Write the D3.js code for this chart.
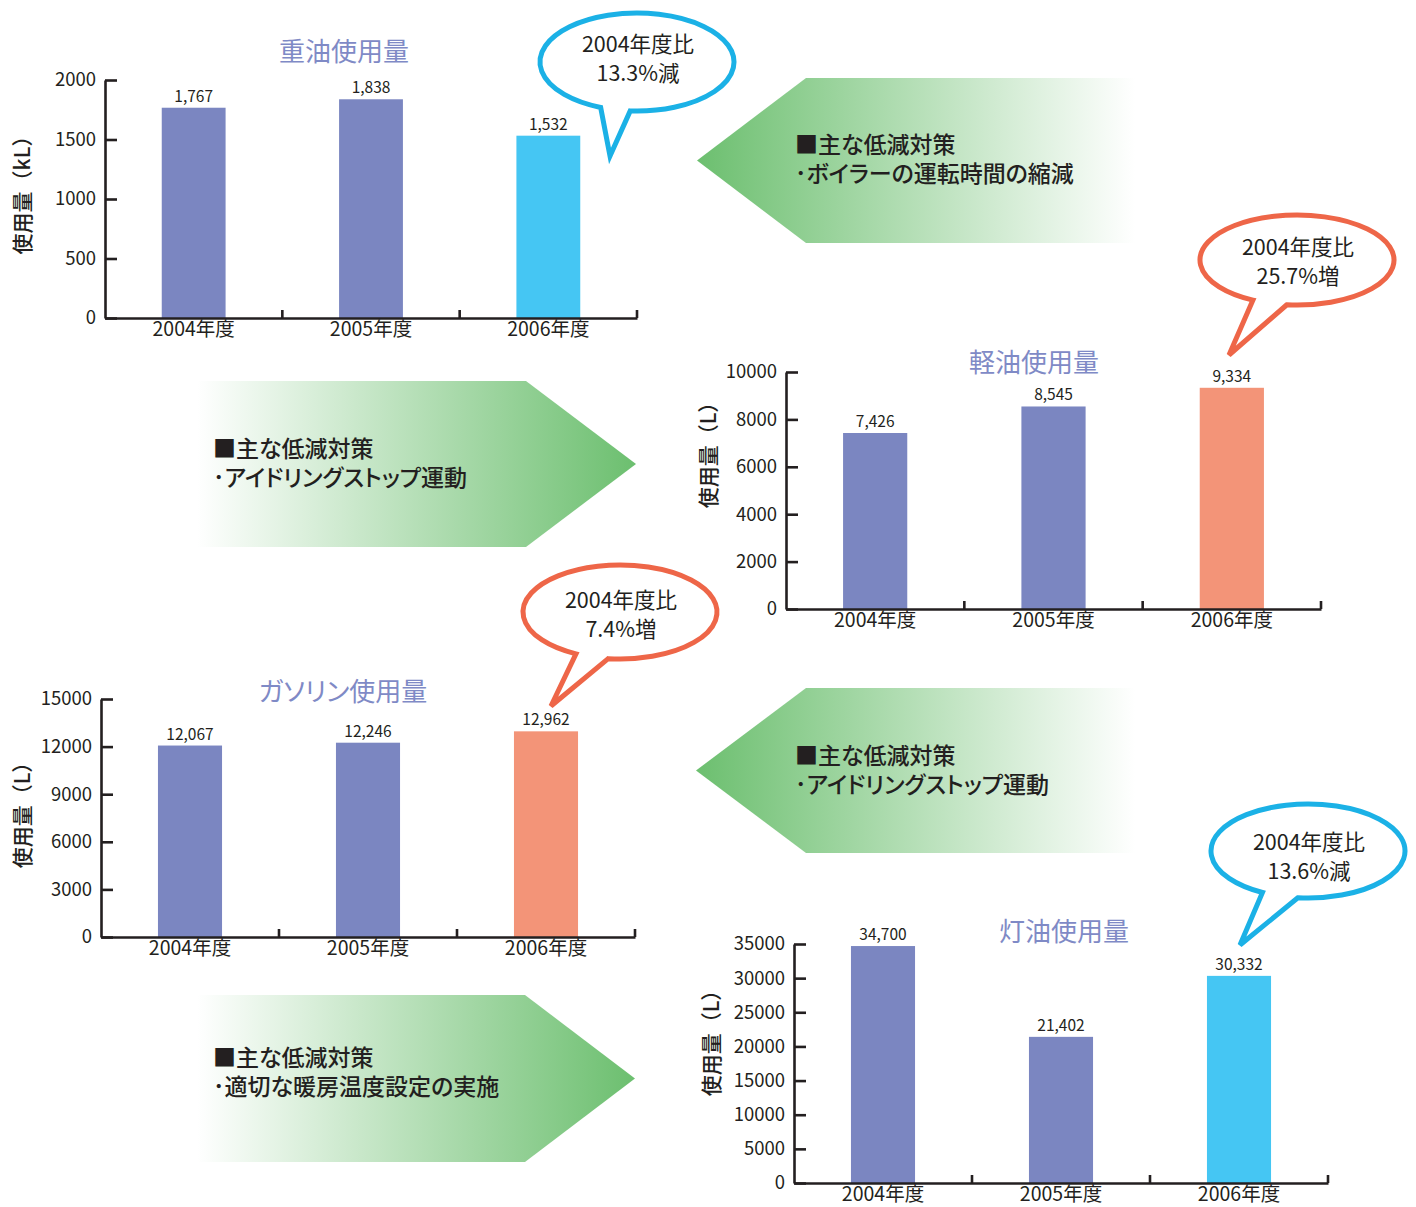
<!DOCTYPE html>
<html lang="ja">
<head>
<meta charset="utf-8">
<title>燃料使用量の推移</title>
<script src="https://cdn.jsdelivr.net/npm/d3@7"></script>
<style>
  html, body { margin: 0; padding: 0; background: #ffffff; }
  svg { display: block; }
  text { font-family: "Noto Sans CJK JP", "Noto Sans", sans-serif; fill: #231f20; }
  .kana { font-feature-settings: "palt"; }
</style>
</head>
<body>
<script>
// ---- data ----
const years = ["2004年度", "2005年度", "2006年度"];

const heavyOilUse = [1767, 1838, 1532];      // kL
const lightOilUse = [7426, 8545, 9334];      // L
const gasolineUse = [12067, 12246, 12962];   // L
const keroseneUse = [34700, 21402, 30332];   // L

const heavyOilTicks = [0, 500, 1000, 1500, 2000];
const lightOilTicks = [0, 2000, 4000, 6000, 8000, 10000];
const gasolineTicks = [0, 3000, 6000, 9000, 12000, 15000];
const keroseneTicks = [0, 5000, 10000, 15000, 20000, 25000, 30000, 35000];

const chartTitles = ["重油使用量", "軽油使用量", "ガソリン使用量", "灯油使用量"];
const unitLabels = ["使用量（kL）", "使用量（L）", "使用量（L）", "使用量（L）"];

const changeLines = [
  ["2004年度比", "13.3%減"],
  ["2004年度比", "25.7%増"],
  ["2004年度比", "7.4%増"],
  ["2004年度比", "13.6%減"]
];

const measureHeading = "■主な低減対策";
const measureItems = [
  "･ボイラーの運転時間の縮減",
  "･アイドリングストップ運動",
  "･アイドリングストップ運動",
  "･適切な暖房温度設定の実施"
];

// ---- styles ----
const C = {
  bar: "#7b86c1",
  down: "#45c6f3",
  up: "#f39478",
  title: "#7f8ac6",
  ink: "#231f20",
  blueLine: "#1bb1e6",
  redLine: "#ee6648",
  green: "#6cbf6f"
};

const svg = d3.select("body").append("svg")
  .attr("width", 1416).attr("height", 1207);
const defs = svg.append("defs");

// ---- bar chart panels ----
const panels = [
  { values: heavyOilUse, ticks: heavyOilTicks, hi: C.down,
    x0: 105, x1: 637, y0: 318, y1: 80, title: [344, 61], unit: [21, 190] },
  { values: lightOilUse, ticks: lightOilTicks, hi: C.up,
    x0: 786, x1: 1321, y0: 609, y1: 372, title: [1034, 372], unit: [707, 450] },
  { values: gasolineUse, ticks: gasolineTicks, hi: C.up,
    x0: 101, x1: 635, y0: 937, y1: 699, title: [343, 701], unit: [21, 810] },
  { values: keroseneUse, ticks: keroseneTicks, hi: C.down,
    x0: 794, x1: 1328, y0: 1183, y1: 944, title: [1064, 941], unit: [710, 1038] }
];

panels.forEach((p, i) => {
  const g = svg.append("g");
  const x = d3.scaleBand().domain(years).range([p.x0, p.x1])
    .paddingInner(0.64).paddingOuter(0.32);
  const y = d3.scaleLinear().domain([0, d3.max(p.ticks)]).range([p.y0, p.y1]);

  // bars
  g.selectAll("rect.bar").data(p.values).join("rect")
    .attr("class", "bar")
    .attr("x", (d, j) => x(years[j]))
    .attr("width", x.bandwidth())
    .attr("y", d => y(d))
    .attr("height", d => y(0) - y(d))
    .attr("fill", (d, j) => j === years.length - 1 ? p.hi : C.bar);

  // value labels
  g.selectAll("text.val").data(p.values).join("text")
    .attr("class", "val")
    .attr("x", (d, j) => x(years[j]) + x.bandwidth() / 2)
    .attr("y", d => y(d) - 6)
    .attr("text-anchor", "middle")
    .attr("font-size", 15.5)
    .text(d => d3.format(",")(d));

  // y axis with inward ticks
  const ya = g.append("g")
    .attr("transform", `translate(${p.x0},0)`)
    .call(d3.axisLeft(y).tickValues(p.ticks).tickFormat(d3.format("d"))
      .tickSizeInner(-12).tickSizeOuter(0).tickPadding(9));
  ya.select(".domain").attr("stroke", C.ink).attr("stroke-width", 2.6);
  ya.selectAll(".tick line").attr("stroke", C.ink).attr("stroke-width", 2.6);
  ya.selectAll(".tick text").attr("font-size", 18.5).attr("fill", C.ink)
    .attr("font-family", "'Noto Sans CJK JP', sans-serif");

  // x axis: category labels plus boundary marks
  const xa = g.append("g")
    .attr("transform", `translate(0,${p.y0})`)
    .call(d3.axisBottom(x).tickSize(0).tickPadding(4));
  xa.select(".domain").attr("stroke", C.ink).attr("stroke-width", 2.6);
  xa.selectAll(".tick text").attr("font-size", 19.5).attr("fill", C.ink)
    .attr("font-family", "'Noto Sans CJK JP', sans-serif");
  const step = x.step();
  g.selectAll("line.sep").data(years).join("line")
    .attr("class", "sep")
    .attr("x1", (d, j) => p.x0 + step * (j + 1))
    .attr("x2", (d, j) => p.x0 + step * (j + 1))
    .attr("y1", p.y0).attr("y2", p.y0 - 8)
    .attr("stroke", C.ink).attr("stroke-width", 2.6);

  // title
  g.append("text")
    .attr("class", "kana")
    .attr("x", p.title[0]).attr("y", p.title[1])
    .attr("text-anchor", "middle")
    .attr("font-size", 26)
    .style("fill", C.title)
    .text(chartTitles[i]);

  // unit label
  g.append("text")
    .attr("transform", `translate(${p.unit[0]},${p.unit[1]}) rotate(-90)`)
    .attr("text-anchor", "middle")
    .attr("dominant-baseline", "central")
    .attr("font-size", 21)
    .attr("font-weight", 500)
    .text(unitLabels[i]);
});

// ---- arrow banners with measures ----
const banners = [
  { dir: "left",  left: 697, right: 1135, neck: 806, top: 78,  bottom: 243, tx: 795, ty: 153 },
  { dir: "right", left: 197, right: 636,  neck: 526, top: 381, bottom: 547, tx: 213, ty: 457 },
  { dir: "left",  left: 696, right: 1135, neck: 806, top: 688, bottom: 853, tx: 795, ty: 764 },
  { dir: "right", left: 197, right: 635,  neck: 525, top: 995, bottom: 1162, tx: 213, ty: 1066 }
];

banners.forEach((b, i) => {
  const id = "fade" + i;
  const grad = defs.append("linearGradient").attr("id", id)
    .attr("gradientUnits", "userSpaceOnUse")
    .attr("x1", b.left).attr("x2", b.right).attr("y1", 0).attr("y2", 0);
  const stops = b.dir === "left"
    ? [[0, C.green], [1, "#ffffff"]]
    : [[0, "#ffffff"], [1, C.green]];
  stops.forEach(s => grad.append("stop").attr("offset", s[0]).attr("stop-color", s[1]));

  const mid = (b.top + b.bottom) / 2;
  const pts = b.dir === "left"
    ? [[b.left, mid], [b.neck, b.top], [b.right, b.top], [b.right, b.bottom], [b.neck, b.bottom]]
    : [[b.left, b.top], [b.neck, b.top], [b.right, mid], [b.neck, b.bottom], [b.left, b.bottom]];
  svg.append("path")
    .attr("d", d3.line()(pts) + "Z")
    .attr("fill", `url(#${id})`);

  const t = svg.append("text").attr("class", "kana").attr("font-size", 23).attr("font-weight", 500);
  t.append("tspan").attr("x", b.tx).attr("y", b.ty).text(measureHeading);
  t.append("tspan").attr("x", b.tx).attr("y", b.ty + 29).text(measureItems[i]);
});

// ---- speech bubbles ----
const bubbles = [
  { cx: 637,  cy: 62,  rx: 97, ry: 49, a1: 112, a2: 94, tip: [610, 156], color: C.blueLine, ty: 52 },
  { cx: 1297, cy: 260, rx: 97, ry: 45, a1: 117, a2: 96, tip: [1229, 355], color: C.redLine, ty: 255 },
  { cx: 620,  cy: 612, rx: 97, ry: 47, a1: 117, a2: 97, tip: [551, 706], color: C.redLine, ty: 608 },
  { cx: 1308, cy: 851, rx: 97, ry: 47, a1: 118, a2: 96, tip: [1240, 945], color: C.blueLine, ty: 850 }
];

bubbles.forEach((b, i) => {
  const rad = Math.PI / 180;
  const p1 = [b.cx + b.rx * Math.cos(b.a1 * rad), b.cy + b.ry * Math.sin(b.a1 * rad)];
  const p2 = [b.cx + b.rx * Math.cos(b.a2 * rad), b.cy + b.ry * Math.sin(b.a2 * rad)];
  const d = `M${p2[0]},${p2[1]} L${b.tip[0]},${b.tip[1]} L${p1[0]},${p1[1]} ` +
            `A${b.rx},${b.ry} 0 1 1 ${p2[0]},${p2[1]} Z`;
  svg.append("path").attr("d", d)
    .attr("fill", "#ffffff")
    .attr("stroke", b.color).attr("stroke-width", 5)
    .attr("stroke-linejoin", "miter");

  const t = svg.append("text").attr("font-size", 21.5).attr("text-anchor", "middle");
  t.append("tspan").attr("x", b.cx + 1).attr("y", b.ty).text(changeLines[i][0]);
  t.append("tspan").attr("x", b.cx + 1).attr("y", b.ty + 29).text(changeLines[i][1]);
});
</script>
</body>
</html>
